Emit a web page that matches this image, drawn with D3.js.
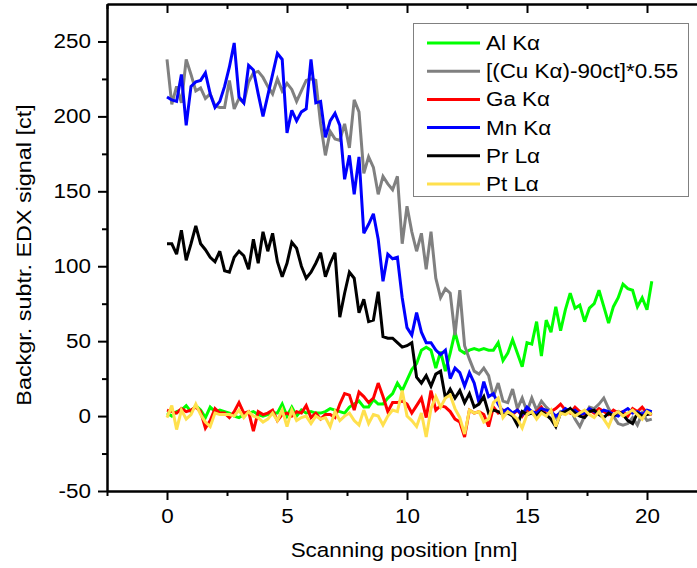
<!DOCTYPE html>
<html>
<head>
<meta charset="utf-8">
<script src="https://cdn.jsdelivr.net/npm/d3@7"></script>
<style>
  body { margin: 0; background: #fff; }
  svg { display: block; }
  text { font-family: "Liberation Sans", Arial, sans-serif; fill: #000; }
</style>
</head>
<body>
<script>
// scanning positions [nm]
let pos = [0, 0.2, 0.4, 0.6, 0.8, 1, 1.2, 1.4, 1.6, 1.8,
  2, 2.2, 2.4, 2.6, 2.8, 3, 3.2, 3.4, 3.6, 3.8,
  4, 4.2, 4.4, 4.6, 4.8, 5, 5.2, 5.4, 5.6, 5.8,
  6, 6.2, 6.4, 6.6, 6.8, 7, 7.2, 7.4, 7.6, 7.8,
  8, 8.2, 8.4, 8.6, 8.8, 9, 9.2, 9.4, 9.6, 9.8,
  10, 10.2, 10.4, 10.6, 10.8, 11, 11.2, 11.4, 11.6, 11.8,
  12, 12.2, 12.4, 12.6, 12.8, 13, 13.2, 13.4, 13.6, 13.8,
  14, 14.2, 14.4, 14.6, 14.8, 15, 15.2, 15.4, 15.6, 15.8,
  16, 16.2, 16.4, 16.6, 16.8, 17, 17.2, 17.4, 17.6, 17.8,
  18, 18.2, 18.4, 18.6, 18.8, 19, 19.2, 19.4, 19.6, 19.8,
  20, 20.2];

let alK = [2, 0, 3, 4, 7, 3, 7, 4, -1, 6,
  3, 4, 3, 2, 0, -1, 1, 2, 3, 1,
  0, 1, 2, 2, 8, 0, 6, 0, 4, 2,
  3, 2, 2, 3, 5, 4, 3, 2, 6, 8,
  10, 6, 6, 11, 8, 8, 12, 15, 22, 17,
  24, 31, 35, 44, 46, 44, 32, 43, 30, 42,
  56, 44, 42, 44, 45, 44, 45, 44, 44, 49,
  37, 42, 51, 42, 33, 49, 48, 63, 40, 64,
  56, 73, 57, 71, 82, 72, 74, 63, 72, 75,
  84, 73, 62, 73, 79, 88, 85, 84, 73, 79,
  71, 90];

let cuK = [238, 208, 220, 209, 238, 228, 217, 219, 212, 215,
  207, 206, 206, 224, 205, 212, 209, 223, 229, 230,
  226, 220, 215, 225, 217, 222, 218, 210, 217, 224,
  225, 224, 195, 174, 190, 185, 184, 195, 179, 211,
  203, 162, 173, 166, 148, 160, 155, 151, 160, 115,
  140, 123, 110, 122, 98, 123, 92, 79, 85, 82,
  54, 84, 47, 38, 30, 28, 32, 27, 13, 22,
  10, 9, 18, 5, 12, 3, 12, 4, 10, 6,
  3, -1, 3, 2, 5, -2, -7, 0, 6, 5,
  8, 12, 5, 0, -5, -6, -5, -1, -6, 2,
  -3, -2];

let gaK = [4, 3, 2, 5, 3, 4, 6, 3, -8, -3,
  5, 2, 2, -1, 3, 9, 2, 3, -10, 3,
  1, 2, 4, -3, 1, 2, 0, 3, 2, 7,
  -1, 2, -2, 1, 1, -1, 8, 15, 14, 4,
  16, 13, 9, 12, 22, 13, 3, 9, 9, 10,
  8, 2, 7, 12, -1, 17, 4, 7, 6, 3,
  -2, -4, -14, 4, 2, 3, 1, -7, 6, 2,
  4, 3, 1, 4, 0, 5, 2, 3, 6, 1,
  3, 5, 8, 4, 2, 6, 3, 1, 4, 2,
  5, 3, 1, 4, 2, 3, 0, 5, 3, 6,
  2, 1];

let mnK = [213, 211, 210, 228, 194, 220, 223, 224, 229, 215,
  206, 210, 220, 233, 249, 213, 209, 234, 231, 215,
  200, 214, 228, 242, 238, 189, 204, 197, 203, 205,
  238, 209, 210, 186, 197, 202, 194, 158, 174, 148,
  173, 122, 128, 135, 118, 90, 108, 105, 106, 79,
  59, 54, 69, 56, 49, 49, 44, 41, 44, 25,
  32, 29, 20, 29, 22, 9, 23, 13, 15, 8,
  3, 5, 2, 4, 1, 6, 3, 2, 5, 4,
  3, 0, 2, 5, 3, 4, 1, 2, 5, 3,
  2, 4, 3, 1, 0, 3, 5, 2, 3, 1,
  4, 3];

let prL = [115, 115, 108, 124, 104, 115, 127, 115, 111, 106,
  103, 110, 97, 96, 106, 110, 107, 98, 118, 102,
  123, 110, 122, 103, 93, 102, 116, 112, 100, 92,
  96, 102, 109, 93, 102, 109, 66, 82, 96, 92,
  69, 78, 63, 64, 83, 53, 52, 52, 49, 46,
  47, 49, 26, 22, 27, 20, 28, 30, 12, 18,
  12, 17, 9, 15, 6, 8, 13, 2, 4, 3,
  1, 2, 0, -6, 3, 1, 2, 0, 3, 1,
  -2, -7, 2, 3, 5, 2, 0, -1, 3, 4,
  1, -1, 2, 0, 3, 1, -3, -5, 2, 0,
  1, 2];

let ptL = [-1, 7, -9, 4, -2, 1, 8, 1, -4, -7,
  2, 1, 1, 1, 0, 4, -1, 3, 0, -1,
  -4, -2, 2, -3, 4, -7, 4, -3, -1, 0,
  -5, 0, -2, -1, -7, 3, -3, 0, 2, -3,
  -6, 4, -5, 1, 0, -6, 0, 4, 3, 17,
  0, -3, -7, 2, -14, 5, 13, 6, 12, 14,
  5, -1, -12, 4, 2, 3, -4, -2, 9, 12,
  -1, 3, 1, -2, -8, 1, 3, -2, 2, 0,
  4, -7, 2, 1, 3, 0, 2, 4, 1, -1,
  3, -2, -7, 1, 3, 0, 2, 4, 1, -2,
  3, 1];

let seriesNames = ["Al K\u03b1", "[(Cu K\u03b1)-90ct]*0.55", "Ga K\u03b1", "Mn K\u03b1", "Pr L\u03b1", "Pt L\u03b1"];
let seriesValues = [alK, cuK, gaK, mnK, prL, ptL];
let seriesColors = ["#00ff00", "#808080", "#ff0000", "#0000ff", "#000000", "#ffe04d"];

let xMajor = [0, 5, 10, 15, 20];
let xMinor = [-2.5, 2.5, 7.5, 12.5, 17.5, 22.5];
let yMajor = [-50, 0, 50, 100, 150, 200, 250];
let yMinor = [-25, 25, 75, 125, 175, 225];

let W = 697, H = 568;
let mLeft = 107, mRight = 707, mTop = 4, mBottom = 491;

let svg = d3.select('body').append('svg')
    .attr('width', W).attr('height', H);

let x = d3.scaleLinear().domain([-2.5, 22.5]).range([mLeft, mRight]);
let y = d3.scaleLinear().domain([-50, 275]).range([mBottom, mTop]);

let fs = 19.5;
let sx = 1.15;   // the original lettering is a bit wider than Arial

// curves
let line = d3.line().x((d, i) => x(pos[i])).y(d => y(d));
seriesValues.forEach((vals, k) => {
    svg.append('path')
        .attr('d', line(vals))
        .attr('fill', 'none')
        .attr('stroke', seriesColors[k])
        .attr('stroke-width', 3)
        .attr('stroke-linejoin', 'miter')
        .attr('stroke-miterlimit', 3);
});

// axes
let styleAxis = (g) => {
    g.selectAll('path.domain').attr('stroke', '#000').attr('stroke-width', 2);
    g.selectAll('line').attr('stroke', '#000').attr('stroke-width', 2);
    g.selectAll('text')
        .style('font-size', fs + 'px')
        .style('font-family', '"Liberation Sans", Arial, sans-serif')
        .attr('x', function () { return (+this.getAttribute('x') || 0) / sx; })
        .attr('transform', `scale(${sx},1)`);
};

let fmt = d => String(d);

svg.append('g').attr('transform', `translate(0,${mBottom})`)
    .call(d3.axisBottom(x).tickValues(xMajor).tickSize(9).tickSizeOuter(0).tickPadding(9).tickFormat(fmt))
    .call(styleAxis);
svg.append('g').attr('transform', `translate(0,${mBottom})`)
    .call(d3.axisBottom(x).tickValues(xMinor).tickSize(5).tickSizeOuter(0).tickFormat(''))
    .call(styleAxis);
svg.append('g').attr('transform', `translate(0,${mTop})`)
    .call(d3.axisTop(x).tickValues(xMajor).tickSize(-9).tickSizeOuter(0).tickFormat(''))
    .call(styleAxis);
svg.append('g').attr('transform', `translate(0,${mTop})`)
    .call(d3.axisTop(x).tickValues(xMinor).tickSize(-5).tickSizeOuter(0).tickFormat(''))
    .call(styleAxis);

svg.append('g').attr('transform', `translate(${mLeft},0)`)
    .call(d3.axisLeft(y).tickValues(yMajor).tickSize(9).tickSizeOuter(0).tickPadding(7).tickFormat(fmt))
    .call(styleAxis);
svg.append('g').attr('transform', `translate(${mLeft},0)`)
    .call(d3.axisLeft(y).tickValues(yMinor).tickSize(5).tickSizeOuter(0).tickFormat(''))
    .call(styleAxis);
svg.append('g').attr('transform', `translate(${mRight},0)`)
    .call(d3.axisRight(y).tickValues(yMajor).tickSize(-9).tickSizeOuter(0).tickFormat(''))
    .call(styleAxis);
svg.append('g').attr('transform', `translate(${mRight},0)`)
    .call(d3.axisRight(y).tickValues(yMinor).tickSize(-5).tickSizeOuter(0).tickFormat(''))
    .call(styleAxis);

// axis titles
svg.append('text')
    .attr('transform', `translate(${(mLeft + mRight) / 2 - 3},557) scale(${sx},1)`)
    .attr('text-anchor', 'middle')
    .style('font-size', fs + 'px')
    .text('Scanning position [nm]');

svg.append('text')
    .attr('transform', 'translate(31,255) rotate(-90) scale(1.2,1)')
    .attr('text-anchor', 'middle')
    .style('font-size', fs + 'px')
    .text('Backgr. subtr. EDX signal [ct]');

// legend
let legend = svg.append('g');
legend.append('rect')
    .attr('x', 413.5).attr('y', 23.5).attr('width', 275).attr('height', 173)
    .attr('fill', '#fff').attr('stroke', '#808080').attr('stroke-width', 1);
seriesNames.forEach((name, k) => {
    let cy = 43 + k * 28.2;
    legend.append('line')
        .attr('x1', 427).attr('x2', 480).attr('y1', cy).attr('y2', cy)
        .attr('stroke', seriesColors[k]).attr('stroke-width', 3);
    legend.append('text')
        .attr('transform', `translate(486,${cy + 7}) scale(${sx},1)`)
        .style('font-size', fs + 'px')
        .text(name);
});
</script>
</body>
</html>
